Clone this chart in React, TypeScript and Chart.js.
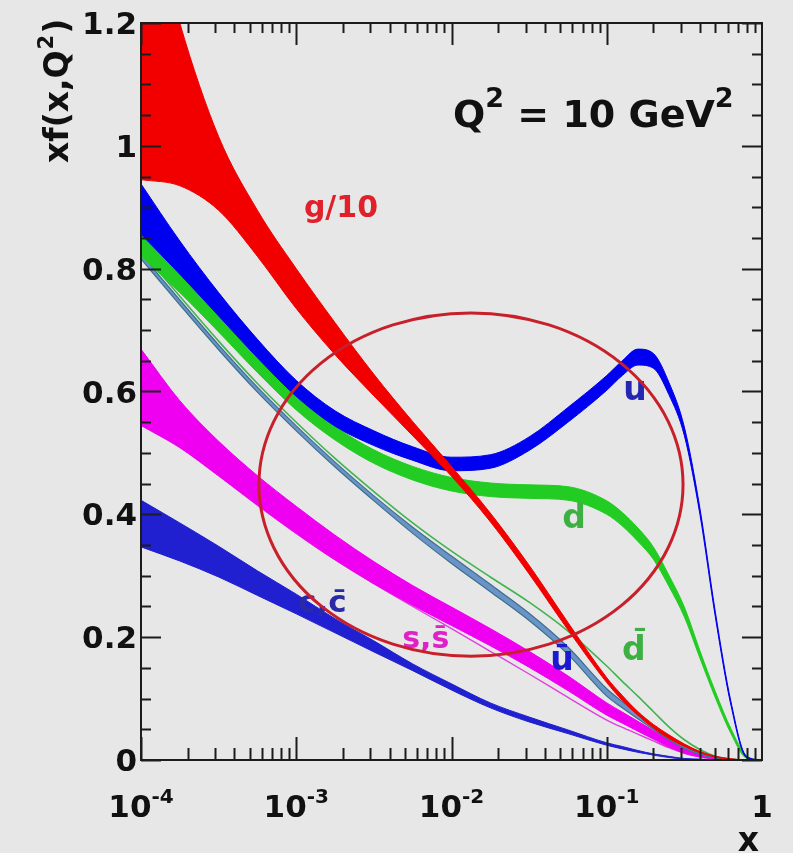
import React, { useEffect, useRef } from 'react';
import { Chart, registerables } from 'chart.js';

Chart.register(...registerables);

// x grid (log spaced)
const X_GRID = [1e-4, 1.778e-4, 3.162e-4, 5.623e-4, 1e-3, 1.778e-3, 3.162e-3, 5.623e-3, 1e-2, 1.778e-2, 3.162e-2, 5.623e-2, 0.1, 0.1259, 0.1585, 0.1995, 0.2512, 0.3162, 0.3981, 0.5012, 0.631, 0.7943, 1];

// g/10 band
const G_LO = [0.945, 0.935, 0.895, 0.82, 0.735, 0.66, 0.593, 0.528, 0.462, 0.388, 0.303, 0.212, 0.126, 0.097, 0.073, 0.052, 0.035, 0.022, 0.012, 0.0045, 0.001, 0, 0];
const G_HI = [1.45, 1.2, 1.015, 0.895, 0.8, 0.712, 0.628, 0.551, 0.478, 0.402, 0.317, 0.224, 0.134, 0.105, 0.079, 0.058, 0.041, 0.026, 0.014, 0.006, 0.002, 0, 0];
// u band
const U_LO = [0.856, 0.791, 0.723, 0.655, 0.592, 0.5435, 0.512, 0.488, 0.471, 0.475, 0.504, 0.55, 0.602, 0.626, 0.643, 0.638, 0.595, 0.528, 0.4, 0.232, 0.089, 0.004, 0];
const U_HI = [0.938, 0.845, 0.761, 0.685, 0.618, 0.5685, 0.536, 0.51, 0.493, 0.497, 0.526, 0.574, 0.626, 0.65, 0.669, 0.662, 0.615, 0.542, 0.41, 0.24, 0.095, 0.006, 0];
// d band
const D_LO = [0.82, 0.761, 0.697, 0.631, 0.57, 0.521, 0.483, 0.456, 0.438, 0.429, 0.426, 0.423, 0.4, 0.381, 0.356, 0.327, 0.283, 0.233, 0.166, 0.101, 0.043, 0.003, 0];
const D_HI = [0.856, 0.791, 0.723, 0.655, 0.592, 0.543, 0.505, 0.478, 0.46, 0.451, 0.448, 0.445, 0.422, 0.403, 0.378, 0.347, 0.301, 0.249, 0.178, 0.111, 0.051, 0.007, 0];
// dbar line
const DBAR = [0.83, 0.755, 0.682, 0.613, 0.55, 0.491, 0.437, 0.386, 0.34, 0.298, 0.257, 0.21, 0.153, 0.128, 0.104, 0.079, 0.054, 0.033, 0.017, 0.006, 0.0015, 0, 0];
// ubar band
const UBAR_LO = [0.816, 0.741, 0.668, 0.599, 0.536, 0.477, 0.422, 0.369, 0.32, 0.274, 0.227, 0.172, 0.104, 0.085, 0.067, 0.05, 0.033, 0.019, 0.009, 0.003, 0.0005, 0, 0];
const UBAR_HI = [0.824, 0.749, 0.676, 0.607, 0.544, 0.485, 0.43, 0.379, 0.332, 0.286, 0.239, 0.184, 0.116, 0.095, 0.075, 0.056, 0.039, 0.023, 0.011, 0.005, 0.0015, 0, 0];
// s band and sbar line
const S_LO = [0.545, 0.509, 0.463, 0.415, 0.369, 0.326, 0.287, 0.252, 0.219, 0.186, 0.151, 0.113, 0.073, 0.06, 0.047, 0.034, 0.021, 0.011, 0.005, 0.0015, 0.0004, 0, 0];
const S_HI = [0.669, 0.585, 0.519, 0.463, 0.413, 0.366, 0.323, 0.284, 0.249, 0.214, 0.177, 0.137, 0.093, 0.078, 0.063, 0.048, 0.033, 0.019, 0.009, 0.0035, 0.001, 0, 0];
const SBAR = [0.545, 0.509, 0.463, 0.415, 0.369, 0.326, 0.287, 0.25, 0.214, 0.177, 0.14, 0.102, 0.065, 0.053, 0.042, 0.031, 0.02, 0.011, 0.005, 0.0015, 0, 0, 0];
// c band
const C_LO = [0.347, 0.324, 0.298, 0.268, 0.238, 0.207, 0.176, 0.1455, 0.114, 0.085, 0.062, 0.043, 0.024, 0.018, 0.0125, 0.008, 0.004, 0.0015, 0.0005, 0, 0, 0, 0];
const C_HI = [0.423, 0.386, 0.348, 0.308, 0.27, 0.23, 0.194, 0.1565, 0.124, 0.093, 0.07, 0.049, 0.028, 0.022, 0.0155, 0.01, 0.006, 0.0025, 0.0015, 0, 0, 0, 0];

// axes
const X_MIN = 1e-4;
const X_MAX = 1;
const Y_MIN = 0;
const Y_MAX = 1.2;
const X_MAJOR = [1e-4, 1e-3, 1e-2, 1e-1, 1];
const X_TICK_BASE = ['10', '10', '10', '10', '1'];
const X_TICK_EXP = ['-4', '-3', '-2', '-1', ''];
const Y_MAJOR = [0, 0.2, 0.4, 0.6, 0.8, 1.0, 1.2];
const Y_TICK_LABELS = ['0', '0.2', '0.4', '0.6', '0.8', '1', '1.2'];

const CURVE_LABELS = [
  { text: 'g/10', x: 1.12e-3, y: 0.884, color: '#e0202a', size: 30 },
  { text: 'u', x: 0.1276, y: 0.586, color: '#2626b4', size: 33 },
  { text: 'd', x: 0.0516, y: 0.378, color: '#3cb043', size: 33 },
  { text: 'd\u0304', x: 0.1256, y: 0.163, color: '#3cb043', size: 33 },
  { text: '\u016B', x: 0.0432, y: 0.1465, color: '#1a1ad0', size: 33 },
  { text: 's,s\u0304', x: 4.81e-3, y: 0.182, color: '#e020c8', size: 30 },
  { text: 'c,c\u0304', x: 1.028e-3, y: 0.241, color: '#2a2aa8', size: 31 },
];

const ELLIPSE = { xMin: 5.75e-4, xMax: 0.31, yMin: 0.169, yMax: 0.728 };

const FONT = '"DejaVu Sans", sans-serif';

const pts = (ys: number[]) => X_GRID.map((x, i) => ({ x, y: ys[i] }));

function band(label: string, lo: number[], hi: number[], fill: string, border: string, bw = 1) {
  return [
    {
      label: label + ' lo',
      data: pts(lo),
      borderColor: border,
      borderWidth: bw,
      backgroundColor: fill,
      pointRadius: 0,
      fill: false,
      cubicInterpolationMode: 'monotone' as const,
    },
    {
      label: label + ' hi',
      data: pts(hi),
      borderColor: border,
      borderWidth: bw,
      backgroundColor: fill,
      pointRadius: 0,
      fill: '-1',
      cubicInterpolationMode: 'monotone' as const,
    },
  ];
}

function line(label: string, ys: number[], color: string, bw: number) {
  return {
    label,
    data: pts(ys),
    borderColor: color,
    borderWidth: bw,
    pointRadius: 0,
    fill: false,
    cubicInterpolationMode: 'monotone' as const,
  };
}

const bgPlugin = {
  id: 'bg',
  beforeDraw(chart: any) {
    const ctx = chart.ctx;
    ctx.save();
    ctx.fillStyle = '#e7e7e7';
    ctx.fillRect(0, 0, chart.width, chart.height);
    ctx.restore();
  },
};

const decoPlugin = {
  id: 'deco',
  afterDatasetsDraw(chart: any) {
    const ctx: CanvasRenderingContext2D = chart.ctx;
    const a = chart.chartArea;
    const xs = chart.scales.x;
    const ys = chart.scales.y;
    ctx.save();
    ctx.strokeStyle = '#1c1c1c';
    ctx.lineWidth = 2;
    ctx.strokeRect(a.left, a.top, a.right - a.left, a.bottom - a.top);
    ctx.beginPath();
    for (let d = 0; d < X_MAJOR.length - 1; d++) {
      for (let m = 1; m <= 9; m++) {
        const v = X_MAJOR[d] * m;
        const px = Math.round(xs.getPixelForValue(v)) + 0.5;
        const lb = m === 1 ? 23 : 12;
        const lt = m === 1 ? 22 : 10;
        ctx.moveTo(px, a.bottom);
        ctx.lineTo(px, a.bottom - lb);
        ctx.moveTo(px, a.top);
        ctx.lineTo(px, a.top + lt);
      }
    }
    for (let k = 0; k <= 24; k++) {
      const v = k * 0.05;
      const py = Math.round(ys.getPixelForValue(v)) + 0.5;
      const len = k % 4 === 0 ? 20 : 10;
      ctx.moveTo(a.left, py);
      ctx.lineTo(a.left + len, py);
      ctx.moveTo(a.right, py);
      ctx.lineTo(a.right - len, py);
    }
    ctx.stroke();

    ctx.fillStyle = '#111';
    ctx.textAlign = 'right';
    ctx.textBaseline = 'alphabetic';
    ctx.font = `bold 31px ${FONT}`;
    Y_MAJOR.forEach((v, i) => {
      const py = ys.getPixelForValue(v);
      ctx.fillText(Y_TICK_LABELS[i], a.left - 4, py + 11);
    });

    ctx.textAlign = 'left';
    X_MAJOR.forEach((v, i) => {
      const px = xs.getPixelForValue(v);
      ctx.font = `bold 31px ${FONT}`;
      const wb = ctx.measureText(X_TICK_BASE[i]).width;
      ctx.font = `bold 20px ${FONT}`;
      const we = X_TICK_EXP[i] ? ctx.measureText(X_TICK_EXP[i]).width : 0;
      const left = px - (wb + we) / 2;
      ctx.font = `bold 31px ${FONT}`;
      ctx.fillText(X_TICK_BASE[i], left, a.bottom + 57);
      if (X_TICK_EXP[i]) {
        ctx.font = `bold 20px ${FONT}`;
        ctx.fillText(X_TICK_EXP[i], left + wb, a.bottom + 43);
      }
    });

    ctx.font = `bold 33px ${FONT}`;
    ctx.textAlign = 'right';
    ctx.fillText('x', a.right - 3, a.bottom + 91);

    ctx.save();
    ctx.translate(68, 163);
    ctx.rotate(-Math.PI / 2);
    ctx.textAlign = 'left';
    ctx.font = `bold 33px ${FONT}`;
    const t1 = 'xf(x,Q';
    ctx.fillText(t1, 0, 0);
    let w = ctx.measureText(t1).width;
    ctx.font = `bold 21px ${FONT}`;
    ctx.fillText('2', w + 1, -15);
    w += ctx.measureText('2').width + 2;
    ctx.font = `bold 33px ${FONT}`;
    ctx.fillText(')', w, 0);
    ctx.restore();

    ctx.textAlign = 'left';
    let qx = 453;
    const qy = 127;
    ctx.font = `bold 38px ${FONT}`;
    ctx.fillText('Q', qx, qy);
    qx += ctx.measureText('Q').width;
    ctx.font = `bold 27px ${FONT}`;
    ctx.fillText('2', qx, qy - 20);
    qx += ctx.measureText('2').width;
    ctx.font = `bold 38px ${FONT}`;
    const mid = ' = 10 GeV';
    ctx.fillText(mid, qx, qy);
    qx += ctx.measureText(mid).width;
    ctx.font = `bold 27px ${FONT}`;
    ctx.fillText('2', qx, qy - 20);

    CURVE_LABELS.forEach((l) => {
      ctx.font = `bold ${l.size}px ${FONT}`;
      ctx.fillStyle = l.color;
      ctx.fillText(l.text, xs.getPixelForValue(l.x), ys.getPixelForValue(l.y));
    });

    const ex0 = xs.getPixelForValue(ELLIPSE.xMin);
    const ex1 = xs.getPixelForValue(ELLIPSE.xMax);
    const ey0 = ys.getPixelForValue(ELLIPSE.yMax);
    const ey1 = ys.getPixelForValue(ELLIPSE.yMin);
    ctx.beginPath();
    ctx.ellipse((ex0 + ex1) / 2, (ey0 + ey1) / 2, (ex1 - ex0) / 2, (ey1 - ey0) / 2, 0, 0, Math.PI * 2);
    ctx.strokeStyle = '#c8202a';
    ctx.lineWidth = 3;
    ctx.stroke();
    ctx.restore();
  },
};

export default function App() {
  const ref = useRef<HTMLCanvasElement>(null);
  useEffect(() => {
    if (!ref.current) return;
    const datasets: any[] = [
      ...band('g/10', G_LO, G_HI, '#f20000', '#f20000'),
      ...band('u', U_LO, U_HI, '#0000f0', '#0000f0'),
      ...band('d', D_LO, D_HI, '#22cc22', '#22cc22'),
      line('dbar', DBAR, '#3fb44f', 1.6),
      ...band('ubar', UBAR_LO, UBAR_HI, '#6a94c8', '#3d6f8c', 1.2),
      ...band('s', S_LO, S_HI, '#f000f0', '#f000f0'),
      line('sbar', SBAR, '#e040e0', 1.4),
      ...band('c', C_LO, C_HI, '#2020d0', '#2020d0'),
    ];
    const chart = new Chart(ref.current, {
      type: 'line',
      data: { datasets },
      options: {
        animation: false,
        responsive: false,
        devicePixelRatio: 1,
        events: [],
        layout: { padding: { left: 141, right: 31, top: 23, bottom: 93 } },
        plugins: { legend: { display: false }, tooltip: { enabled: false } },
        scales: {
          x: { type: 'logarithmic', min: X_MIN, max: X_MAX, display: false },
          y: { type: 'linear', min: Y_MIN, max: Y_MAX, display: false },
        },
      },
      plugins: [bgPlugin, decoPlugin],
    });
    return () => chart.destroy();
  }, []);
  return (
    <div style={{ position: 'absolute', left: 0, top: 0, width: 793, height: 853 }}>
      <canvas ref={ref} width={793} height={853} style={{ display: 'block', width: 793, height: 853 }} />
    </div>
  );
}
